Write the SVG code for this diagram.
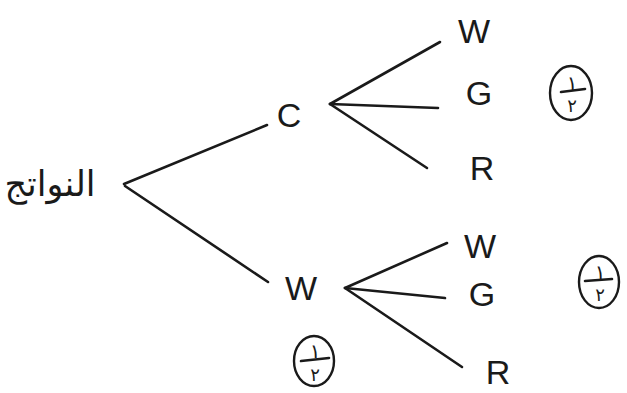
<svg xmlns="http://www.w3.org/2000/svg" width="627" height="393" viewBox="0 0 627 393">
<style>
.ln{stroke:#1a1a1a;stroke-width:2.6;stroke-linecap:round;fill:none}
.lbl{font-family:"Liberation Sans","DejaVu Sans",sans-serif;font-size:34px;fill:#1a1a1a}
.ar{font-family:"DejaVu Sans","Noto Sans",sans-serif;fill:#1a1a1a}
.circ{stroke:#1a1a1a;stroke-width:2.4;fill:none}
</style>
<rect width="627" height="393" fill="#ffffff"/>
<g id="connectors">
<path class="ln" d="M124,184 L267,125"/>
<path class="ln" d="M125,186 L268,282"/>
<path class="ln" d="M330,104 L440,42"/>
<path class="ln" d="M330,104 L438,108"/>
<path class="ln" d="M330,104 L427,168"/>
<path class="ln" d="M345,288 L447,243"/>
<path class="ln" d="M345,288 L445,298"/>
<path class="ln" d="M345,288 L462,367"/>
</g>
<g id="root"><text class="ar" x="50" y="196" font-size="35" text-anchor="middle" direction="rtl">النواتج</text></g>
<g id="nodeC"><text class="lbl" x="289" y="127" text-anchor="middle">C</text></g>
<g id="nodeW"><text class="lbl" x="301" y="300" text-anchor="middle">W</text></g>
<g id="leafCW"><text class="lbl" x="474" y="43" text-anchor="middle">W</text></g>
<g id="leafCG"><text class="lbl" x="479" y="105" text-anchor="middle">G</text></g>
<g id="leafCR"><text class="lbl" x="482" y="180" text-anchor="middle">R</text></g>
<g id="leafWW"><text class="lbl" x="480" y="258" text-anchor="middle">W</text></g>
<g id="leafWG"><text class="lbl" x="482" y="306" text-anchor="middle">G</text></g>
<g id="leafWR"><text class="lbl" x="498" y="384" text-anchor="middle">R</text></g>
<g id="probC">
<ellipse class="circ" cx="571" cy="93" rx="21" ry="27"/>
<text class="ar" x="572" y="90" font-size="20" text-anchor="middle">١</text>
<path class="ln" d="M561,92 L585,89"/>
<text class="ar" x="572" y="112" font-size="18" text-anchor="middle">٢</text>
</g>
<g id="probW2">
<ellipse class="circ" cx="599" cy="282" rx="20" ry="26"/>
<text class="ar" x="600" y="279" font-size="20" text-anchor="middle">١</text>
<path class="ln" d="M585,281 L612,279"/>
<text class="ar" x="600" y="301" font-size="18" text-anchor="middle">٢</text>
</g>
<g id="probW">
<ellipse class="circ" cx="314" cy="361" rx="20" ry="25"/>
<text class="ar" x="315" y="358" font-size="20" text-anchor="middle">١</text>
<path class="ln" d="M301,361 L329,358"/>
<text class="ar" x="315" y="381" font-size="18" text-anchor="middle">٢</text>
</g>
</svg>
